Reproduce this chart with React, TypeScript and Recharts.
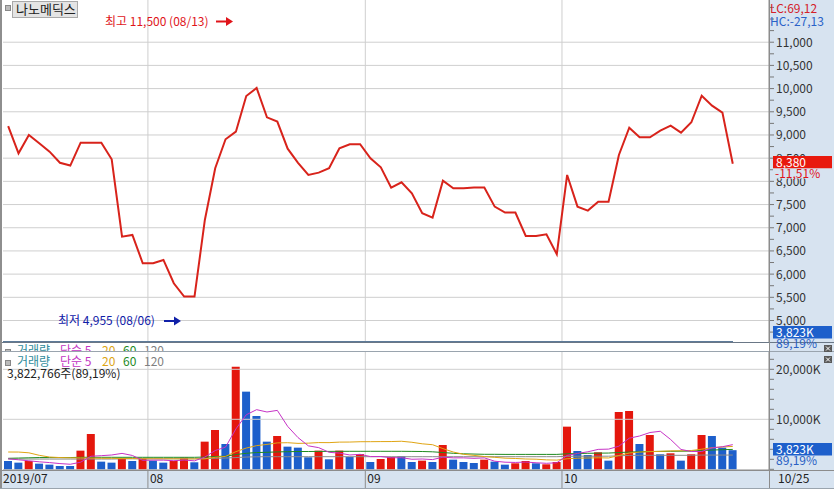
import React from 'react';
import { LineChart, Line, ComposedChart, Bar, Cell, XAxis, YAxis, ReferenceLine } from 'recharts';

// ---------- data ----------
const dates = [
  '07/12','07/15','07/16','07/17','07/18','07/19','07/22','07/23','07/24','07/25','07/26','07/29','07/30','07/31',
  '08/01','08/02','08/05','08/06','08/07','08/08','08/09','08/12','08/13','08/14','08/16','08/19','08/20','08/21','08/22','08/23','08/26','08/27','08/28','08/29','08/30',
  '09/02','09/03','09/04','09/05','09/06','09/09','09/10','09/11','09/16','09/17','09/18','09/19','09/20','09/23','09/24','09/25','09/26','09/27','09/30',
  '10/01','10/02','10/04','10/07','10/08','10/10','10/11','10/14','10/15','10/16','10/17','10/18','10/21','10/22','10/23','10/24','10/25',
];

const closes = [
  9190, 8605, 9000, 8820, 8640, 8400, 8340, 8835, 8835, 8835,
  8476, 6808, 6845, 6235, 6235, 6306, 5803, 5515, 5515, 7168,
  8282, 8907, 9071, 9840, 10013, 9381, 9290, 8705, 8400, 8138,
  8188, 8282, 8713, 8800, 8800, 8498, 8304, 7864, 7980, 7743,
  7312, 7218, 8015, 7851, 7851, 7865, 7865, 7455, 7326, 7326,
  6823, 6823, 6860, 6429, 8138, 7455, 7369, 7563, 7563, 8569,
  9157, 8950, 8950, 9093, 9201, 9050, 9274, 9847, 9632, 9481,
  8380,
];

// volume in thousands of shares
const volumes = [
  1660, 1330, 1660, 1130, 930, 660, 660, 3730, 7060, 1530,
  1330, 2260, 1660, 2190, 1730, 1330, 1660, 2330, 1400, 5530,
  7860, 5060, 20530, 15530, 10660, 5530, 6660, 4530, 4330, 2400,
  3730, 2000, 3730, 2460, 3060, 1460, 2060, 2460, 2600, 1460,
  1730, 1460, 4860, 1930, 1460, 1260, 1930, 1530, 930, 1200,
  1660, 1200, 1000, 1460, 8530, 3660, 2860, 3400, 1730, 11460,
  11660, 5060, 6860, 3000, 3200, 1730, 3000, 6860, 6660, 4330,
  3823,
];

// bar colour: u = red (up), d = blue (down)
const dirs = [
  'd','d','u','d','d','d','d','u','u','d',
  'd','u','d','u','d','d','u','u','d','u',
  'u','d','u','d','d','d','u','d','d','d',
  'u','d','u','d','u','d','u','u','d','d',
  'u','d','u','d','d','d','u','d','d','u',
  'u','d','u','u','u','d','d','u','d','u',
  'u','d','u','d','u','d','u','u','d','d',
  'd',
];

const ma5 = [
  2100, 1900, 1700, 1500, 1342, 1142, 1008, 1422, 2608, 2728,
  2862, 3182, 2768, 1794, 1834, 1834, 1714, 1848, 1690, 2450,
  3756, 4436, 8076, 10902, 11928, 11462, 11782, 8582, 6342, 4690,
  4330, 3398, 3238, 2864, 2996, 2542, 2554, 2300, 2328, 2008,
  2062, 1942, 2422, 2288, 2288, 2194, 2288, 1622, 1422, 1370,
  1450, 1304, 1198, 1304, 2770, 3170, 3502, 3982, 4036, 4622,
  6222, 6662, 7354, 7608, 5956, 3970, 3558, 3558, 4290, 4516,
  4935,
];

const ma20 = [
  3460, 3450, 3300, 2800, 2450, 2350, 2300, 2280, 2250, 2200,
  2200, 2150, 2150, 2100, 2100, 2100, 2100, 2080, 2080, 2089,
  2399, 2585, 3529, 4249, 4735, 4979, 5279, 5319, 5182, 5226,
  5346, 5333, 5436, 5450, 5516, 5523, 5543, 5549, 5609, 5406,
  5099, 4919, 4136, 3456, 2996, 2782, 2546, 2396, 2226, 2166,
  2062, 2022, 1886, 1836, 2109, 2219, 2259, 2306, 2263, 2763,
  3259, 3439, 3539, 3593, 3680, 3703, 3757, 4023, 4310, 4466,
  4574,
];

const ma60 = [
  2200, 2250, 2300, 2350, 2350, 2350, 2350, 2400, 2400, 2400,
  2400, 2400, 2400, 2400, 2400, 2400, 2400, 2400, 2400, 2450,
  2550, 2620, 2950, 3200, 3350, 3400, 3480, 3520, 3560, 3560,
  3580, 3580, 3600, 3600, 3600, 3600, 3600, 3600, 3600, 3580,
  3560, 3500, 3350, 3200, 3100, 3050, 3000, 3000, 2980, 2980,
  2980, 2980, 2980, 2980, 3100, 3150, 3200, 3230, 3250, 3350,
  3450, 3500, 3550, 3580, 3600, 3620, 3650, 3750, 3850, 3920,
  3980,
];

const ma120 = [
  2050, 2050, 2050, 2050, 2050, 2050, 2050, 2050, 2050, 2050,
  2050, 2100, 2100, 2100, 2100, 2100, 2100, 2100, 2100, 2150,
  2200, 2250, 2350, 2450, 2500, 2520, 2520, 2520, 2520, 2520,
  2520, 2520, 2520, 2520, 2520, 2520, 2520, 2520, 2520, 2520,
  2520, 2520, 2520, 2520, 2520, 2520, 2520, 2520, 2520, 2520,
  2520, 2520, 2520, 2520, 2600, 2620, 2620, 2620, 2620, 2700,
  2780, 2800, 2800, 2800, 2800, 2800, 2800, 2850, 2850, 2850,
  2850,
];

const priceTicks = [
  4750, 5000, 5250, 5500, 5750, 6000, 6250, 6500, 6750, 7000, 7250, 7500, 7750,
  8000, 8250, 8500, 8750, 9000, 9250, 9500, 9750, 10000, 10250, 10500, 10750,
  11000, 11250, 11500, 11750,
];
const priceGrid = [5000, 5500, 6000, 6500, 7000, 7500, 8000, 8500, 9000, 9500, 10000, 10500, 11000];
const volTicks = [0, 2000, 4000, 6000, 8000, 10000, 12000, 14000, 16000, 18000, 20000, 22000];
const volGrid = [10000, 20000];
const monthLabels = ['2019/07', '08', '09', '10'];
const lastDateLabel = '10/25';

const stockName = '나노메딕스';
const highText = '최고 11,500 (08/13)';
const lowText = '최저 4,955 (08/06)';
const lastPriceText = '8,380';
const changeText = '-11,51%';
const lastVolText = '3,823K';
const ratioText = '89,19%';
const volInfoText = '3,822,766주(89,19%)';

// ---------- derived table ----------
const data = dates.map((d, i) => ({
  idx: i,
  date: d,
  close: closes[i],
  vol: volumes[i],
  ma5: ma5[i],
  ma20: ma20[i],
  ma60: ma60[i],
  ma120: ma120[i],
}));

const monthStarts: number[] = [];
dates.forEach((d, i) => {
  if (i === 0 || d.slice(0, 2) !== dates[i - 1].slice(0, 2)) monthStarts.push(i - 0.5);
});

// ---------- style ----------
const FONT = "'Noto Sans CJK KR', 'Noto Sans', sans-serif";
const STRIP = '#d7e3f0';
const RED = '#e4170d';
const BLUE = '#1d5fcb';
const LINE_RED = '#d8231b';
const GRID = '#cfcfcf';
const X_DOMAIN: [number, number] = [-0.5, 73.5];

const PriceTick = (props: any) => {
  const { x, y, payload } = props;
  if (payload.value % 500 !== 0 || payload.value < 5000 || payload.value > 11000) return <g />;
  return (
    <text x={x} y={y} dy={4.5} fontSize={12} fill="#333" fontFamily={FONT} textAnchor="start">
      {payload.value.toLocaleString('en-US')}
    </text>
  );
};

const VolTick = (props: any) => {
  const { x, y, payload } = props;
  if (payload.value !== 10000 && payload.value !== 20000) return <g />;
  return (
    <text x={x} y={y} dy={4.5} fontSize={12} fill="#333" fontFamily={FONT} textAnchor="start">
      {payload.value.toLocaleString('en-US') + 'K'}
    </text>
  );
};

const DateTick = (props: any) => {
  const { x, y, payload } = props;
  const i = monthStarts.indexOf(payload.value);
  return (
    <g>
      {i > 0 && <line x1={x} x2={x} y1={y} y2={y + 19} stroke="#8c8c8c" />}
      <text x={i === 0 ? x : x + 2} y={y + 13} fontSize={12} fill="#222" fontFamily={FONT}>
        {monthLabels[i]}
      </text>
    </g>
  );
};

const Arrow = ({ x, y, color }: { x: number; y: number; color: string }) => (
  <g>
    <line x1={x} x2={x + 11} y1={y} y2={y} stroke={color} strokeWidth={2} />
    <polygon points={`${x + 10},${y - 4.5} ${x + 17},${y} ${x + 10},${y + 4.5}`} fill={color} />
  </g>
);

const CloseBtn = ({ x, y }: { x: number; y: number }) => (
  <g>
    <rect x={x} y={y} width={8} height={7} fill="#5a5a5a" />
    <line x1={x + 2} y1={y + 1.5} x2={x + 6} y2={y + 5.5} stroke="#fff" strokeWidth={1} />
    <line x1={x + 6} y1={y + 1.5} x2={x + 2} y2={y + 5.5} stroke="#fff" strokeWidth={1} />
  </g>
);

const Legend = ({ y }: { y: number }) => (
  <g fontFamily={FONT} fontSize={12}>
    <rect x={5.5} y={y - 5.5} width={5} height={5} fill="#bbb" stroke="#888" />
    <text x={17} y={y} fill="#2f8c9b">거래량</text>
    <text x={60} y={y} fill="#c233c2">단순 5</text>
    <text x={102} y={y} fill="#dca514">20</text>
    <text x={123} y={y} fill="#238a23">60</text>
    <text x={144} y={y} fill="#7f7f7f">120</text>
  </g>
);

export default function App() {
  return (
    <div
      style={{
        position: 'absolute',
        left: 0,
        top: 0,
        width: 834,
        height: 489,
        background: STRIP,
        overflow: 'hidden',
        fontFamily: FONT,
      }}
    >
      <div style={{ position: 'absolute', left: 2, top: 0, width: 767, height: 470, background: '#fff' }} />
      <div style={{ position: 'absolute', left: 0, top: 0, width: 2, height: 489, background: '#8e8e8e' }} />

      {/* price panel */}
      <div style={{ position: 'absolute', left: 0, top: 0 }}>
        <LineChart width={834} height={343} data={data} margin={{ top: 0, right: 0, bottom: 0, left: 3 }}>
          <XAxis type="number" dataKey="idx" domain={X_DOMAIN} hide allowDataOverflow />
          <YAxis
            orientation="right"
            width={65}
            domain={[4515, 11910]}
            ticks={priceTicks}
            interval={0}
            tick={<PriceTick />}
            tickSize={5}
            tickMargin={2}
            tickLine={{ stroke: '#777' }}
            axisLine={{ stroke: '#8c8c8c' }}
            allowDataOverflow
          />
          {priceGrid.map((v) => (
            <ReferenceLine key={'pg' + v} y={v} stroke={GRID} strokeWidth={1} />
          ))}
          {monthStarts.slice(1).map((m) => (
            <ReferenceLine key={'pm' + m} x={m} stroke={GRID} strokeWidth={1} />
          ))}
          <Line
            type="linear"
            dataKey="close"
            stroke={LINE_RED}
            strokeWidth={2}
            dot={false}
            activeDot={false}
            isAnimationActive={false}
          />
        </LineChart>
      </div>

      {/* volume panel */}
      <div style={{ position: 'absolute', left: 0, top: 343 }}>
        <ComposedChart width={834} height={146} data={data} margin={{ top: 9, right: 0, bottom: 0, left: 3 }}>
          <XAxis
            type="number"
            dataKey="idx"
            domain={X_DOMAIN}
            ticks={monthStarts}
            interval={0}
            height={19}
            tickSize={0}
            tickMargin={0}
            tickLine={false}
            tick={<DateTick />}
            axisLine={{ stroke: '#8c8c8c' }}
            allowDataOverflow
          />
          <YAxis
            orientation="right"
            width={65}
            domain={[-140, 23460]}
            ticks={volTicks}
            interval={0}
            tick={<VolTick />}
            tickSize={5}
            tickMargin={2}
            tickLine={{ stroke: '#777' }}
            axisLine={{ stroke: '#8c8c8c' }}
            allowDataOverflow
          />
          {volGrid.map((v) => (
            <ReferenceLine key={'vg' + v} y={v} stroke={GRID} strokeWidth={1} />
          ))}
          {monthStarts.slice(1).map((m) => (
            <ReferenceLine key={'vm' + m} x={m} stroke={GRID} strokeWidth={1} />
          ))}
          <Bar dataKey="vol" barSize={8} isAnimationActive={false}>
            {data.map((d, i) => (
              <Cell key={'c' + i} fill={dirs[i] === 'u' ? RED : BLUE} />
            ))}
          </Bar>
          <Line dataKey="ma120" stroke="#8a8a8a" strokeWidth={1} dot={false} activeDot={false} isAnimationActive={false} />
          <Line dataKey="ma60" stroke="#1f8a1f" strokeWidth={1} dot={false} activeDot={false} isAnimationActive={false} />
          <Line dataKey="ma20" stroke="#e0a514" strokeWidth={1} dot={false} activeDot={false} isAnimationActive={false} />
          <Line dataKey="ma5" stroke="#c633c6" strokeWidth={1} dot={false} activeDot={false} isAnimationActive={false} />
        </ComposedChart>
      </div>

      {/* overlay annotations */}
      <svg
        width={834}
        height={489}
        style={{ position: 'absolute', left: 0, top: 0, pointerEvents: 'none' }}
        fontFamily={FONT}
      >
        <defs>
          <clipPath id="legclip">
            <rect x={0} y={343} width={300} height={8.5} />
          </clipPath>
        </defs>

        {/* header */}
        <rect x={5.5} y={5.5} width={5} height={5} fill="#bbb" stroke="#888" />
        <rect x={12.5} y={1.5} width={65} height={16} fill="#e4e4e4" stroke="#a9a9a9" />
        <text x={16} y={14} fontSize={13} fill="#222">{stockName}</text>

        {/* high / low annotations */}
        <text x={105} y={25.5} fontSize={12} fill="#e0141a">{highText}</text>
        <Arrow x={216} y={21.5} color="#e0141a" />
        <text x={58} y={325} fontSize={12} fill="#1020a8">{lowText}</text>
        <Arrow x={164} y={321} color="#1020a8" />

        {/* top right info */}
        <text x={770} y={13} fontSize={12} fill="#d42028">LC:69,12</text>
        <text x={770} y={25.5} fontSize={12} fill="#2a62c8">HC:-27,13</text>

        {/* last price box */}
        <rect x={773} y={156} width={59} height={12.5} fill="#e8190e" />
        <text x={776} y={166.5} fontSize={12} fill="#fff">{lastPriceText}</text>
        <rect x={773} y={168.5} width={59} height={10} fill={STRIP} />
        <text x={775} y={178} fontSize={12} fill="#e0141a">{changeText}</text>

        {/* top panel volume box */}
        <rect x={773} y={326} width={59} height={12.5} fill={BLUE} />
        <text x={776} y={336.5} fontSize={12} fill="#fff">{lastVolText}</text>

        {/* panel separators */}
        <line x1={2} x2={834} y1={342.5} y2={342.5} stroke="#6a7786" />
        <line x1={3} x2={733} y1={341.5} y2={341.5} stroke="#5e7b99" />
        <text x={776} y={348} fontSize={12} fill="#2a5fc4">{ratioText}</text>
        <g clipPath="url(#legclip)">
          <Legend y={355} />
        </g>
        <line x1={2} x2={834} y1={351.5} y2={351.5} stroke="#9aa4ae" />
        <line x1={769.5} x2={769.5} y1={0} y2={489} stroke="#8c8c8c" />
        <CloseBtn x={824} y={345} />
        <CloseBtn x={824} y={356} />

        {/* volume legend */}
        <Legend y={366} />
        <text x={7} y={378} fontSize={12} fill="#222">{volInfoText}</text>

        {/* volume box */}
        <rect x={773} y={443} width={59} height={12.5} fill={BLUE} />
        <text x={776} y={453.5} fontSize={12} fill="#fff">{lastVolText}</text>
        <text x={776} y={465} fontSize={12} fill="#2a5fc4">{ratioText}</text>

        {/* bottom strip */}
        <line x1={2} x2={834} y1={470.5} y2={470.5} stroke="#8c8c8c" />
        <text x={778} y={483} fontSize={12} fill="#222">{lastDateLabel}</text>
        <line x1={0} x2={834} y1={488.5} y2={488.5} stroke="#9aa4ae" />
      </svg>
    </div>
  );
}
